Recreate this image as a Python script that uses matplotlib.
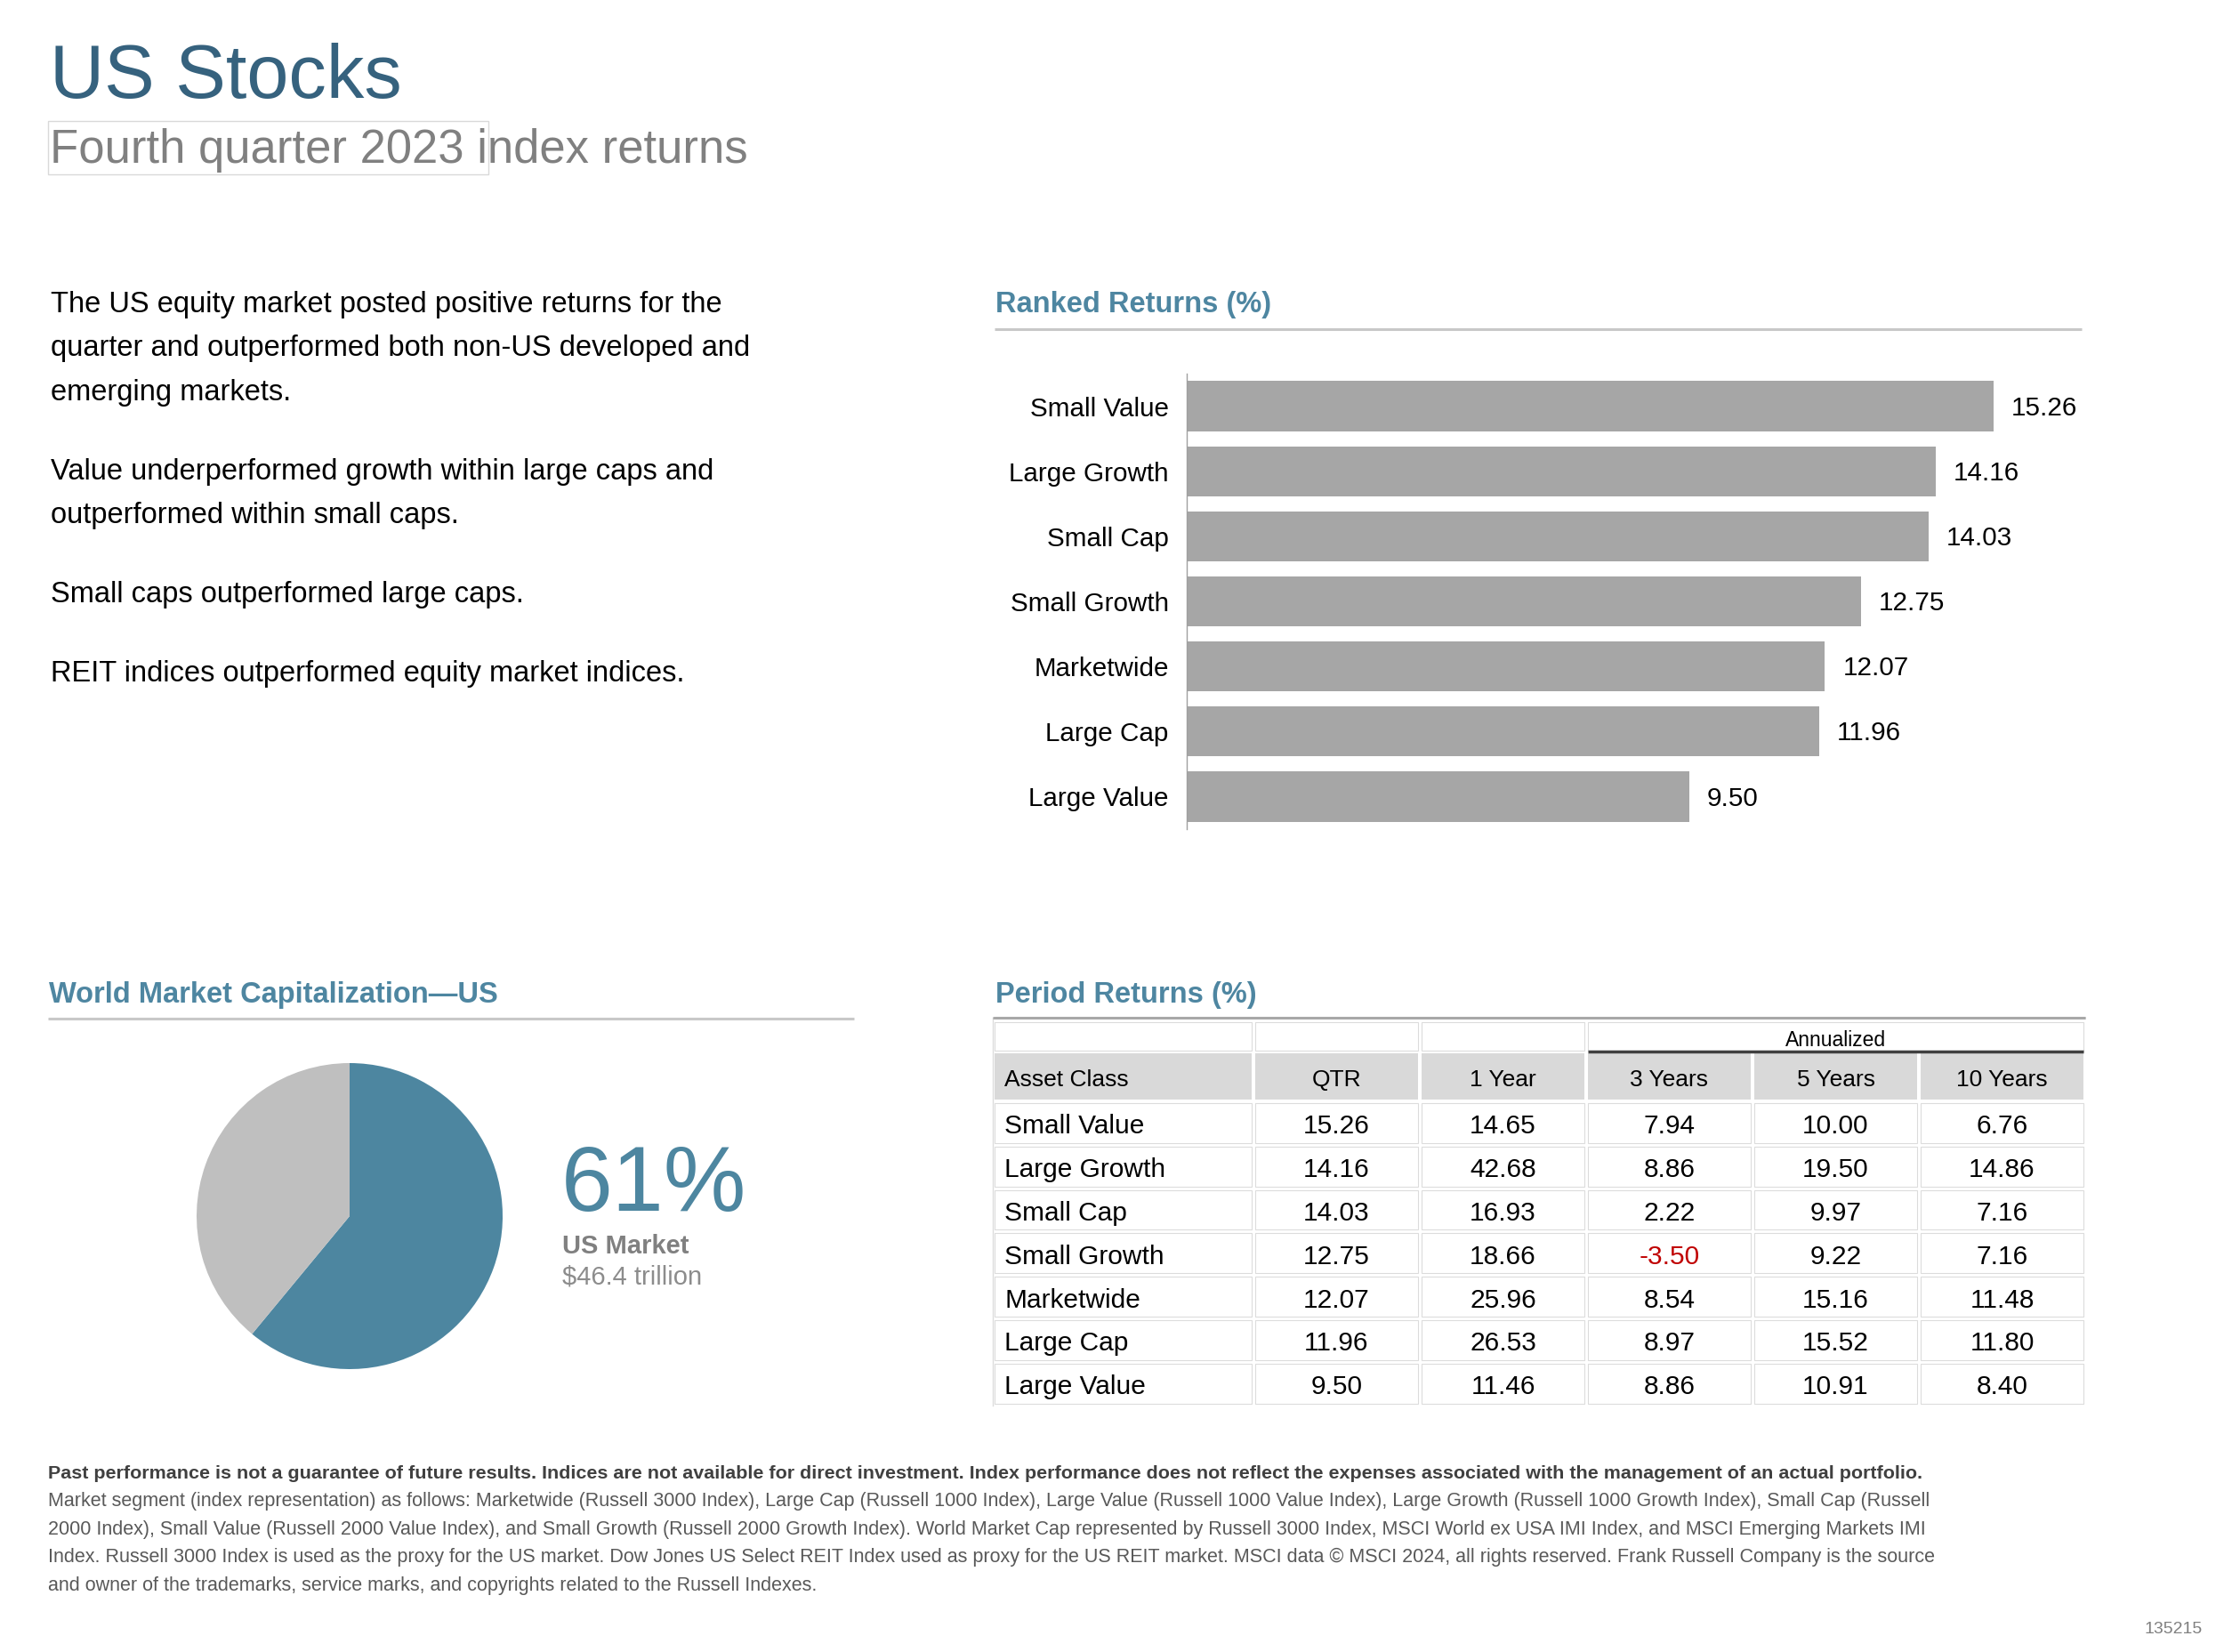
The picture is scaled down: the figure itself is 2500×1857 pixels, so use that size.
import matplotlib
matplotlib.use("Agg")
import matplotlib.pyplot as plt
from matplotlib.patches import Rectangle

plt.rcParams['font.family'] = ['Liberation Sans', 'DejaVu Sans']

# ---- data ----
categories = ['Small Value', 'Large Growth', 'Small Cap', 'Small Growth',
              'Marketwide', 'Large Cap', 'Large Value']
qtr = [15.26, 14.16, 14.03, 12.75, 12.07, 11.96, 9.50]
one_year = [14.65, 42.68, 16.93, 18.66, 25.96, 26.53, 11.46]
three_years = [7.94, 8.86, 2.22, -3.50, 8.54, 8.97, 8.86]
five_years = [10.00, 19.50, 9.97, 9.22, 15.16, 15.52, 10.91]
ten_years = [6.76, 14.86, 7.16, 7.16, 11.48, 11.80, 8.40]
col_headers = ['Asset Class', 'QTR', '1 Year', '3 Years', '5 Years', '10 Years']

us_share = 61
us_cap = '$46.4 trillion'

bullets = [
    ['The US equity market posted positive returns for the',
     'quarter and outperformed both non-US developed and',
     'emerging markets.'],
    ['Value underperformed growth within large caps and',
     'outperformed within small caps.'],
    ['Small caps outperformed large caps.'],
    ['REIT indices outperformed equity market indices.'],
]

disclaimer_bold = ('Past performance is not a guarantee of future results. Indices are not available for '
                   'direct investment. Index performance does not reflect the expenses associated with the '
                   'management of an actual portfolio.')
disclaimer = [
    'Market segment (index representation) as follows: Marketwide (Russell 3000 Index), Large Cap (Russell 1000 Index), '
    'Large Value (Russell 1000 Value Index), Large Growth (Russell 1000 Growth Index), Small Cap (Russell',
    '2000 Index), Small Value (Russell 2000 Value Index), and Small Growth (Russell 2000 Growth Index). World Market Cap '
    'represented by Russell 3000 Index, MSCI World ex USA IMI Index, and MSCI Emerging Markets IMI',
    'Index. Russell 3000 Index is used as the proxy for the US market. Dow Jones US Select REIT Index used as proxy for '
    'the US REIT market. MSCI data \u00a9 MSCI 2024, all rights reserved. Frank Russell Company is the source',
    'and owner of the trademarks, service marks, and copyrights related to the Russell Indexes.',
]

# colours
TITLE_BLUE = '#36627e'
HEAD_BLUE = '#4e86a1'
PIE_BLUE = '#4d86a0'
PIE_GRAY = '#bfbfbf'
BAR_GRAY = '#a6a6a6'
RULE_GRAY = '#c8c8c8'
narrow = ['Liberation Sans Narrow', 'Liberation Sans', 'DejaVu Sans']

W, H = 2500, 1857
fig = plt.figure(figsize=(W / 100, H / 100), dpi=100)

# page overlay in pixel coordinates (y down)
pg = fig.add_axes([0, 0, 1, 1])
pg.set_xlim(0, W)
pg.set_ylim(H, 0)
pg.axis('off')

pg.text(56, 110, 'US Stocks', fontsize=61, color=TITLE_BLUE, va='baseline')
pg.add_patch(Rectangle((54, 136), 495, 60, fill=False, ec='#d9d9d9', lw=1))
pg.text(56, 183, 'Fourth quarter 2023 index returns', fontsize=37.9, color='#808080', va='baseline')

# bullet paragraphs
y = 351
for para in bullets:
    for line in para:
        pg.text(57, y, line, fontsize=23.5, color='black', va='baseline')
        y += 49.4
    y += 39.6

# section headings + rules
def heading(x0, x1, y_base, y_rule, label):
    pg.text(x0 + 1, y_base, label, fontsize=23.5, fontweight='bold', color=HEAD_BLUE, va='baseline')
    pg.plot([x0, x1], [y_rule, y_rule], color=RULE_GRAY, lw=2.2, solid_capstyle='butt')

heading(1118, 2340, 351, 370, 'Ranked Returns (%)')
heading(54, 960, 1127, 1145, 'World Market Capitalization\u2014US')

# ---- ranked returns bars ----
bx0, bx1, by0, by1 = 1334, 2340, 420, 932
axb = fig.add_axes([bx0 / W, 1 - by1 / H, (bx1 - bx0) / W, (by1 - by0) / H])
ypos = list(range(len(categories)))
axb.barh(ypos, qtr, height=0.77, color=BAR_GRAY)
axb.set_xlim(0, (bx1 - bx0) / 59.44)
axb.set_ylim(6.5, -0.5)
axb.set_yticks(ypos)
axb.set_yticklabels(categories, fontsize=21.3)
axb.tick_params(axis='y', length=0, pad=14.5)
axb.set_xticks([])
for s in ['top', 'right', 'bottom']:
    axb.spines[s].set_visible(False)
axb.spines['left'].set_color('#a0a0a0')
axb.spines['left'].set_linewidth(1)
axb.patch.set_alpha(0)
for yi, v in zip(ypos, qtr):
    axb.annotate(f'{v:.2f}', (v, yi), xytext=(14.5, -1.5), textcoords='offset points',
                 va='center', ha='left', fontsize=21.3)

# ---- pie ----
pcx, pcy, pr = 393, 1367, 172
axp = fig.add_axes([(pcx - pr) / W, 1 - (pcy + pr) / H, 2 * pr / W, 2 * pr / H])
axp.pie([us_share, 100 - us_share], colors=[PIE_BLUE, PIE_GRAY], startangle=90,
        counterclock=False, radius=1)
axp.set_xlim(-1, 1)
axp.set_ylim(-1, 1)
axp.set_aspect('equal')

pg.text(631, 1361, f'{us_share}%', fontsize=75, color=PIE_BLUE, va='baseline')
pg.text(632, 1409, 'US Market', fontsize=21, fontweight='bold', color='#808080', va='baseline')
pg.text(632, 1444, us_cap, fontsize=21, color='#8c8c8c', va='baseline')

# ---- period returns table ----
heading(1118, 2344, 1127, 1144, 'Period Returns (%)')
pg.plot([1116, 1116], [1144, 1580], color='#dcdcdc', lw=1)
pg.plot([1116, 2344], [1144, 1144], color='#a6a6a6', lw=2, solid_capstyle='butt')

edges = [1116, 1409, 1596, 1783, 1970, 2157, 2344]
gap = 2
cell_ec = '#dcdcdc'
dy = 4  # text baseline nudge

def cell(x0, x1, y0, y1, fc='white'):
    pg.add_patch(Rectangle((x0 + gap, y0 + gap), x1 - x0 - 2 * gap, y1 - y0 - 2 * gap,
                           fc=fc, ec=cell_ec, lw=0.8))

# annualized row
ann_y0, ann_y1 = 1147, 1183
for c in range(3):
    cell(edges[c], edges[c + 1], ann_y0, ann_y1)
cell(edges[3], edges[6], ann_y0, ann_y1)
pg.text((edges[3] + edges[6]) / 2, 1166 + dy, 'Annualized', fontsize=16.5, ha='center', va='center')
pg.plot([edges[3] + gap, edges[6] - gap], [1182, 1182], color='#404040', lw=2.5, solid_capstyle='butt')

# header row
hd_y0, hd_y1 = 1182, 1238
for c, lab in enumerate(col_headers):
    pg.add_patch(Rectangle((edges[c] + gap, hd_y0 + gap), edges[c + 1] - edges[c] - 2 * gap,
                           hd_y1 - hd_y0 - 2 * gap, fc='#d9d9d9', ec='none'))
    if c == 0:
        pg.text(edges[0] + 13, (hd_y0 + hd_y1) / 2 + dy, lab, fontsize=19, ha='left', va='center')
    else:
        pg.text((edges[c] + edges[c + 1]) / 2, (hd_y0 + hd_y1) / 2 + dy, lab, fontsize=19,
                ha='center', va='center')

# data rows
row_h = 48.8
columns = [qtr, one_year, three_years, five_years, ten_years]
for r, name in enumerate(categories):
    y0 = hd_y1 + r * row_h
    y1 = y0 + row_h
    yc = (y0 + y1) / 2 + dy
    for c in range(6):
        cell(edges[c], edges[c + 1], y0, y1)
    pg.text(edges[0] + 13, yc, name, fontsize=21.5, ha='left', va='center')
    for c, col in enumerate(columns, start=1):
        v = col[r]
        pg.text((edges[c] + edges[c + 1]) / 2, yc, f'{v:.2f}', fontsize=21.5, ha='center',
                va='center', color='#c00000' if v < 0 else 'black')

# ---- disclaimer ----
pg.text(54, 1662, disclaimer_bold, fontsize=15.45, fontweight='bold', color='#404040',
        va='baseline', family=narrow)
fy = 1693
for line in disclaimer:
    pg.text(54, fy, line, fontsize=15.5, color='#595959', va='baseline', family=narrow)
    fy += 31.6

pg.text(2476, 1836, '135215', fontsize=14, color='#808080', ha='right', va='baseline', family=narrow)

fig.savefig('out.png', dpi=100)
